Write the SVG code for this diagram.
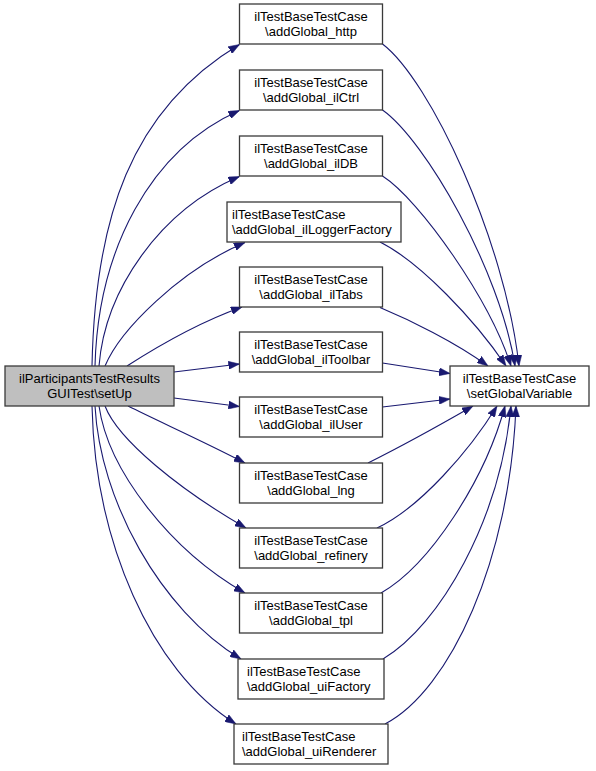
<svg xmlns="http://www.w3.org/2000/svg" width="596" height="771" viewBox="0 0 596 771">
<style>
  .box { fill: #ffffff; stroke: #3a3a3a; stroke-width: 1.3; }
  .root { fill: #bfbfbf; stroke: #3a3a3a; stroke-width: 1.3; }
  text { font-family: "Liberation Sans", Arial, sans-serif; font-size: 13px; fill: #000000; }
  .c { text-anchor: middle; }
  .l { text-anchor: start; }
  .edge { fill: none; stroke: #191970; stroke-width: 1.1; marker-end: url(#arr); }
</style>
<defs>
  <marker id="arr" markerUnits="userSpaceOnUse" viewBox="0 0 11 8" refX="11" refY="4" markerWidth="11" markerHeight="8" orient="auto">
    <path d="M0,0 L11,4 L0,8 z" fill="#191970" stroke="#191970" stroke-width="0.5"/>
  </marker>
</defs>
<rect width="596" height="771" fill="#ffffff"/>
<g id="connectors">
  <path class="edge" d="M92,366 C95,220 130,110 239.5,44.5"/>
  <path class="edge" d="M95,366 C98,250 150,150 239.5,110.5"/>
  <path class="edge" d="M99,366 C105,290 160,210 239.5,176.5"/>
  <path class="edge" d="M105,366 C120,330 180,270 245,242.5"/>
  <path class="edge" d="M127,366 C155,348 200,322 242,307"/>
  <path class="edge" d="M174,372 L239.5,364"/>
  <path class="edge" d="M174,398 L239.5,406.5"/>
  <path class="edge" d="M128,406 C160,422 205,442 245,463"/>
  <path class="edge" d="M105,406 C118,440 180,490 246,528"/>
  <path class="edge" d="M99,406 C108,470 170,550 245,593"/>
  <path class="edge" d="M95,406 C100,500 160,610 241,659"/>
  <path class="edge" d="M92,406 C95,540 150,670 236,724"/>
  <path class="edge" d="M382.5,44 C430,80 505,240 519,366"/>
  <path class="edge" d="M382.5,110 C425,140 500,270 515,366"/>
  <path class="edge" d="M382.5,176 C420,200 490,300 511,366"/>
  <path class="edge" d="M380,242 C420,262 475,320 506,366"/>
  <path class="edge" d="M380,307.5 C410,320 455,342 488,366"/>
  <path class="edge" d="M382.5,363 L450,373.5"/>
  <path class="edge" d="M382.5,407 L450,399"/>
  <path class="edge" d="M368,463 C400,447 440,425 473,406"/>
  <path class="edge" d="M377,528 C420,508 470,450 497,406"/>
  <path class="edge" d="M381,593 C430,565 485,480 505,406"/>
  <path class="edge" d="M383,659 C440,625 500,520 511,406"/>
  <path class="edge" d="M385,724 C450,690 510,560 516,406"/>
</g>
<g id="node_setUp">
  <rect class="root" x="5" y="366" width="169" height="40"/>
  <text class="c" x="89.5" y="382.8">ilParticipantsTestResults</text>
  <text class="c" x="89.5" y="397.8">GUITest\setUp</text>
</g>
<g id="node_setGlobalVariable">
  <rect class="box" x="450" y="366" width="139" height="40"/>
  <text class="c" x="519.5" y="382.8">ilTestBaseTestCase</text>
  <text class="c" x="519.5" y="397.8">\setGlobalVariable</text>
</g>
<g id="node_http">
  <rect class="box" x="239.5" y="4" width="143" height="40"/>
  <text class="c" x="311" y="20.8">ilTestBaseTestCase</text>
  <text class="c" x="311" y="35.8">\addGlobal_http</text>
</g>
<g id="node_ilCtrl">
  <rect class="box" x="239.5" y="70" width="143" height="40"/>
  <text class="c" x="311" y="86.8">ilTestBaseTestCase</text>
  <text class="c" x="311" y="101.8">\addGlobal_ilCtrl</text>
</g>
<g id="node_ilDB">
  <rect class="box" x="239.5" y="136" width="143" height="40"/>
  <text class="c" x="311" y="152.8">ilTestBaseTestCase</text>
  <text class="c" x="311" y="167.8">\addGlobal_ilDB</text>
</g>
<g id="node_ilLoggerFactory">
  <rect class="box" x="227" y="202" width="174" height="40"/>
  <text class="l" x="232" y="218.8">ilTestBaseTestCase</text>
  <text class="l" x="232" y="233.8">\addGlobal_ilLoggerFactory</text>
</g>
<g id="node_ilTabs">
  <rect class="box" x="239.5" y="267" width="143" height="40"/>
  <text class="c" x="311" y="283.8">ilTestBaseTestCase</text>
  <text class="c" x="311" y="298.8">\addGlobal_ilTabs</text>
</g>
<g id="node_ilToolbar">
  <rect class="box" x="239.5" y="332" width="143" height="40"/>
  <text class="c" x="311" y="348.8">ilTestBaseTestCase</text>
  <text class="c" x="311" y="363.8">\addGlobal_ilToolbar</text>
</g>
<g id="node_ilUser">
  <rect class="box" x="239.5" y="397" width="143" height="40"/>
  <text class="c" x="311" y="413.8">ilTestBaseTestCase</text>
  <text class="c" x="311" y="428.8">\addGlobal_ilUser</text>
</g>
<g id="node_lng">
  <rect class="box" x="239.5" y="463" width="143" height="40"/>
  <text class="c" x="311" y="479.8">ilTestBaseTestCase</text>
  <text class="c" x="311" y="494.8">\addGlobal_lng</text>
</g>
<g id="node_refinery">
  <rect class="box" x="239.5" y="528" width="143" height="40"/>
  <text class="c" x="311" y="544.8">ilTestBaseTestCase</text>
  <text class="c" x="311" y="559.8">\addGlobal_refinery</text>
</g>
<g id="node_tpl">
  <rect class="box" x="239.5" y="593" width="143" height="40"/>
  <text class="c" x="311" y="609.8">ilTestBaseTestCase</text>
  <text class="c" x="311" y="624.8">\addGlobal_tpl</text>
</g>
<g id="node_uiFactory">
  <rect class="box" x="238" y="659" width="146" height="40"/>
  <text class="l" x="247" y="675.8">ilTestBaseTestCase</text>
  <text class="l" x="247" y="690.8">\addGlobal_uiFactory</text>
</g>
<g id="node_uiRenderer">
  <rect class="box" x="234" y="724" width="154" height="40"/>
  <text class="l" x="242" y="740.8">ilTestBaseTestCase</text>
  <text class="l" x="242" y="755.8">\addGlobal_uiRenderer</text>
</g>
</svg>
